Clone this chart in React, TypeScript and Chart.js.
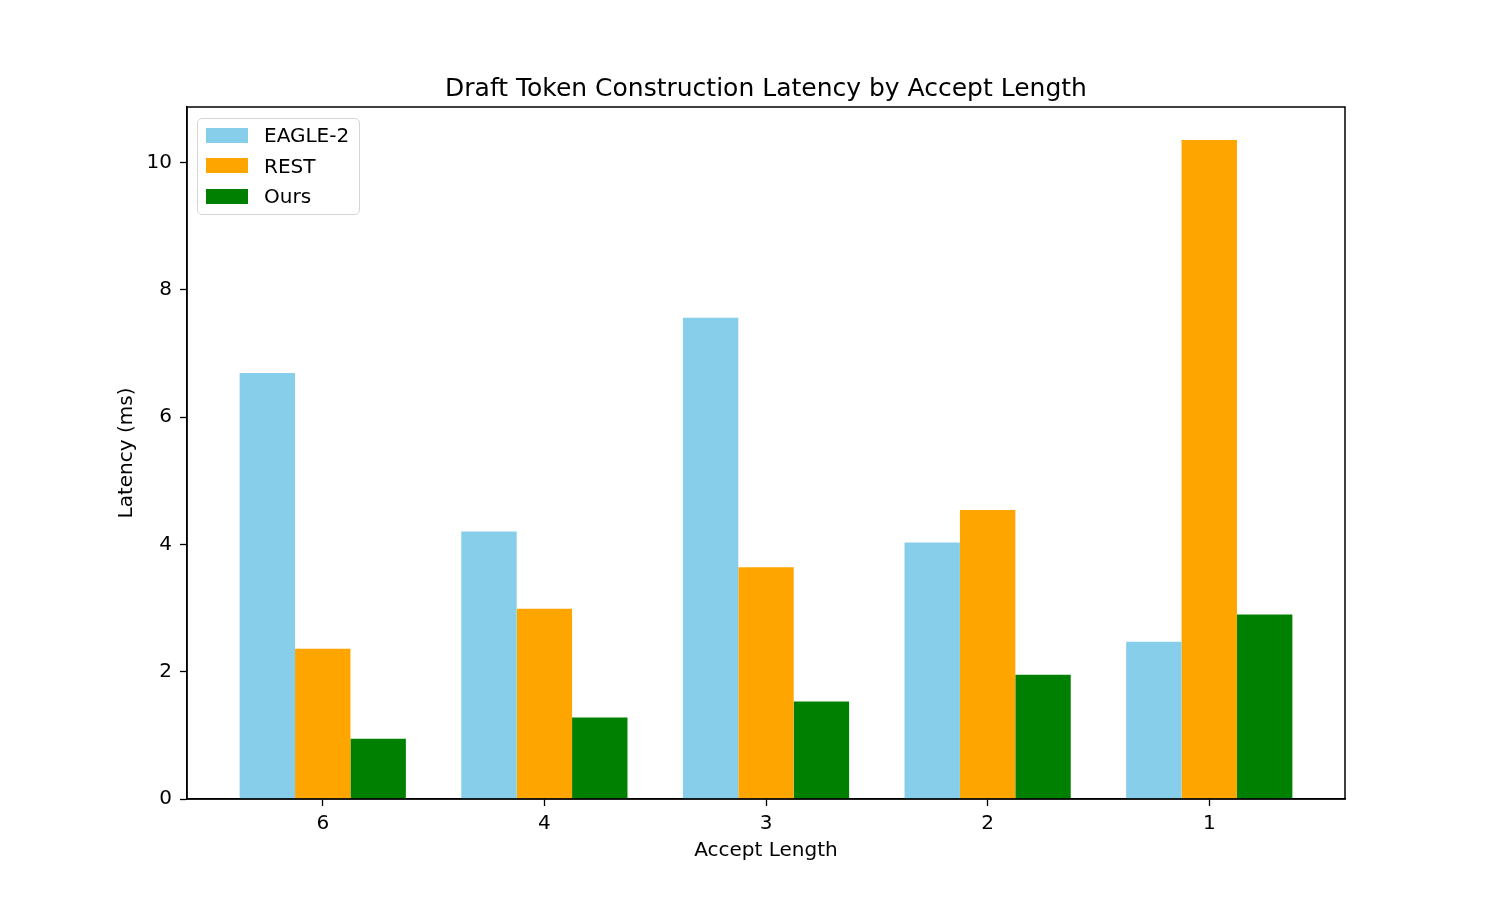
import React, { useEffect, useRef } from "react";
import { Chart, registerables } from "chart.js";

Chart.register(...registerables);

const categories = ["6", "4", "3", "2", "1"];
const seriesNames = ["EAGLE-2", "REST", "Ours"];
const seriesColors = ["#87CEEB", "#FFA500", "#008000"];
const eagle2 = [6.69, 4.2, 7.56, 4.03, 2.47];
const rest = [2.36, 2.99, 3.64, 4.54, 10.35];
const ours = [0.945, 1.28, 1.53, 1.95, 2.9];
const yTicks = [0, 2, 4, 6, 8, 10];
const seriesValues = [eagle2, rest, ours];

const FONT = "'DejaVu Sans', sans-serif";

const framePlugin = {
  id: "frame",
  afterDraw(chart: any) {
    const { ctx, chartArea } = chart;
    ctx.save();
    ctx.strokeStyle = "#000";
    ctx.lineWidth = 1.5;
    ctx.strokeRect(chartArea.left, chartArea.top, chartArea.right - chartArea.left, chartArea.bottom - chartArea.top);
    ctx.restore();
  },
};

export default function App() {
  const ref = useRef<HTMLCanvasElement>(null);
  useEffect(() => {
    document.body.style.margin = "0";
    const chart = new Chart(ref.current!, {
      type: "bar",
      data: {
        datasets: seriesValues.map((vals, s) => ({
          label: seriesNames[s],
          data: vals.map((v, i) => ({ x: i, y: v })),
          backgroundColor: seriesColors[s],
          borderWidth: 0,
          categoryPercentage: 0.75,
          barPercentage: 1.0,
        })),
      },
      plugins: [framePlugin],
      options: {
        animation: false,
        responsive: false,
        devicePixelRatio: 1,
        layout: { padding: { left: 115, right: 150, top: 72, bottom: 34 } },
        plugins: {
          legend: { display: false },
          tooltip: { enabled: false },
          title: {
            display: true,
            fullSize: false,
            text: "Draft Token Construction Latency by Accept Length",
            color: "#000",
            font: { family: FONT, size: 25, weight: "normal", lineHeight: 1.2 },
            padding: { top: 2, bottom: 3 },
          },
        },
        scales: {
          x: {
            type: "linear",
            min: -0.6125,
            max: 4.6125,
            offset: false,
            afterBuildTicks: (axis: any) => {
              axis.ticks = categories.map((_, i) => ({ value: i }));
            },
            afterFit: (scale: any) => {
              scale.height = 64;
            },
            ticks: {
              color: "#000",
              font: { family: FONT, size: 20 },
              padding: 6,
              maxRotation: 0,
              autoSkip: false,
              callback: (v: any) => categories[Math.round(v)] ?? "",
            },
            grid: { display: true, drawOnChartArea: false, drawTicks: true, tickLength: 7, tickColor: "#000", tickWidth: 1.3, offset: false },
            border: { display: true, color: "#000", width: 1.5 },
            title: {
              display: true,
              text: "Accept Length",
              color: "#000",
              font: { family: FONT, size: 20, lineHeight: 1.2 },
              padding: { top: 0, bottom: 0 },
            },
          },
          y: {
            min: 0,
            max: 10.87,
            afterBuildTicks: (axis: any) => {
              axis.ticks = yTicks.map((v) => ({ value: v }));
            },
            afterFit: (scale: any) => {
              scale.width = 72;
            },
            ticks: {
              color: "#000",
              font: { family: FONT, size: 20 },
              padding: 8,
            },
            grid: { display: true, drawOnChartArea: false, drawTicks: true, tickLength: 7, tickColor: "#000", tickWidth: 1.3 },
            border: { display: true, color: "#000", width: 1.5 },
            title: {
              display: true,
              text: "Latency (ms)",
              color: "#000",
              font: { family: FONT, size: 20, lineHeight: 1.2 },
              padding: { top: 0, bottom: 0 },
            },
          },
        },
      } as any,
    });
    return () => chart.destroy();
  }, []);

  return (
    <div style={{ position: "absolute", left: 0, top: 0, width: 1495, height: 897, background: "#fff" }}>
      <canvas ref={ref} width={1495} height={897} />
      <div
        style={{
          position: "absolute",
          left: 197,
          top: 118,
          width: 163,
          height: 97,
          boxSizing: "border-box",
          border: "1.5px solid #d6d6d6",
          borderRadius: 5,
          background: "rgba(255,255,255,0.8)",
          fontFamily: FONT,
          fontSize: 20,
          color: "#000",
        }}
      >
        {seriesNames.map((name, s) => (
          <div key={name} style={{ position: "absolute", left: 0, top: 16 + s * 30.5 - 15, height: 30, display: "flex", alignItems: "center" }}>
            <div style={{ marginLeft: 8, width: 42, height: 15, background: seriesColors[s] }} />
            <span style={{ marginLeft: 16, lineHeight: "30px" }}>{name}</span>
          </div>
        ))}
      </div>
    </div>
  );
}
